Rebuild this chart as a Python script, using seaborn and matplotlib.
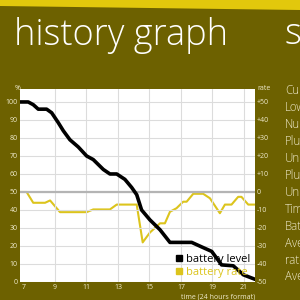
import matplotlib
matplotlib.use("Agg")
import matplotlib.pyplot as plt
import seaborn as sns
import pandas as pd
from matplotlib.patches import Polygon
from matplotlib.lines import Line2D

# ---- data ----
level_hours = [6.78, 7.30, 7.62, 7.94, 8.47, 8.79, 9.21, 9.53, 9.95, 10.48, 11.01, 11.43,
               12.07, 12.49, 12.92, 13.44, 13.87, 14.19, 14.50, 15.03, 15.67, 16.30,
               17.68, 18.31, 18.95, 19.58, 20.32, 20.96, 21.70]
battery_level = [100, 100, 98.5, 96, 96, 94, 88.5, 84, 79, 75, 70, 68,
                 62.5, 60, 60, 57, 52.5, 48.5, 40, 34.5, 29, 22,
                 22, 19.5, 17, 9.5, 9, 4, 1.5]
rate_hours = [6.78, 7.20, 7.62, 8.37, 8.69, 9.32, 11.01, 11.43, 12.49, 12.92, 14.19,
              14.57, 15.03, 15.67, 15.98, 16.30, 16.72, 17.14, 17.36, 17.78, 18.41,
              18.84, 19.47, 19.79, 20.21, 20.63, 20.84, 21.27, 21.70]
battery_rate = [0, 0, -6, -6, -4.7, -11.2, -11.2, -9.7, -9.7, -7, -7,
                -28, -22.5, -17.4, -17.4, -11, -9, -5.4, -5.4, -1, -1,
                -3.5, -11.8, -7, -7, -2.7, -2.7, -7, -7]
x_ticks = [7, 9, 11, 13, 15, 17, 19, 21]
level_ticks = [0, 10, 20, 30, 40, 50, 60, 70, 80, 90, 100]
rate_ticks = [-50, -40, -30, -20, -10, 0, 10, 20, 30, 40, 50]
rate_tick_labels = ["-50", "-40", "-30", "-20", "-10", "0", "+10", "+20", "+30", "+40", "+50"]
title = "history graph"
side_title = "statistics"
side_items = ["Current", "Lowest", "Number", "Plugged", "Unplugged", "Plugged",
              "Unplugged", "Time", "Battery", "Average", "rate", "Average"]

OLIVE = "#6d6100"
YELLOW = "#e2c80c"
RATE_COL = "#dcc41c"
CREAM = "#efeacc"
GRID = "#dcdcdc"

sns.set_theme(style="white")
plt.rcParams['font.family'] = ['Open Sans', 'DejaVu Sans']

fig = plt.figure(figsize=(3, 3), dpi=100, facecolor=OLIVE)

# top yellow band
band = Polygon([[0, 1], [1, 1], [1, 1 - 10 / 300], [0, 1 - 6 / 300]],
               closed=True, transform=fig.transFigure, facecolor=YELLOW,
               edgecolor='none', zorder=0)
fig.patches.append(band)

fig.text(14 / 300, 1 - 44.5 / 300, title, color='white', fontsize=26,
         fontweight='light', va='baseline', ha='left')
fig.text(284 / 300, 1 - 44.5 / 300, side_title, color='white', fontsize=26,
         fontweight='light', va='baseline', ha='left')

ax = fig.add_axes([20 / 300, 18 / 300, 235 / 300, 193 / 300])

df_level = pd.DataFrame({"hour": level_hours, "level": battery_level})
df_rate = pd.DataFrame({"hour": rate_hours, "rate": battery_rate})

ax.set_xlim(6.78, 21.70)
ax.set_ylim(0, 107.2)
ax.set_xticks(x_ticks)
ax.set_yticks(level_ticks)
ax.grid(True, color=GRID, linewidth=0.8)
ax.get_xgridlines()[0].set_visible(False)
ax.axhline(50, color="#b4b4b4", linewidth=1.6, zorder=1.5)

ax2 = ax.twinx()
ax2.set_ylim(-50, 57.2)
ax2.set_yticks(rate_ticks)
ax2.set_yticklabels(rate_tick_labels)
ax2.grid(False)

sns.lineplot(data=df_rate, x="hour", y="rate", ax=ax2, color=RATE_COL,
             linewidth=1.5, estimator=None, sort=False, zorder=3)
sns.lineplot(data=df_level, x="hour", y="level", ax=ax, color="black",
             linewidth=2.6, estimator=None, sort=False, zorder=4)
ax2.set_zorder(0)
ax2.patch.set_visible(True)
ax2.patch.set_facecolor('white')
ax.set_zorder(1)
ax.patch.set_visible(False)

for a in (ax, ax2):
    a.set_xlabel("")
    a.set_ylabel("")
    for s in a.spines.values():
        s.set_visible(False)
    a.tick_params(length=0, pad=1.5, labelsize=5, colors=CREAM)

fig.text(15 / 300, 1 - 88 / 300, "%", color=CREAM, fontsize=5, ha='left', va='center')
fig.text(257 / 300, 1 - 88 / 300, "rate", color=CREAM, fontsize=5, ha='left', va='center')
fig.text(255 / 300, 1 - 297 / 300, "time (24 hours format)", color=CREAM, fontsize=5,
         ha='right', va='center')

for i, item in enumerate(side_items):
    y = 91 + i * 16.9
    fig.text(285 / 300, 1 - y / 300, item, color=CREAM, fontsize=8.3,
             fontweight='light', ha='left', va='center')

handles = [Line2D([], [], linestyle='none', marker='s', markersize=4.5,
                  color='black'),
           Line2D([], [], linestyle='none', marker='s', markersize=4.5,
                  color=RATE_COL)]
leg = ax.legend(handles, ["battery level", "battery rate"], loc='lower left',
                bbox_to_anchor=(0.655, 0.015), frameon=False, fontsize=8,
                handletextpad=0.2, handlelength=0.8, borderpad=0.1,
                labelspacing=0.2, borderaxespad=0)
for t, c in zip(leg.get_texts(), ['black', RATE_COL]):
    t.set_color(c)

fig.savefig("out.png", dpi=100, facecolor=OLIVE)
